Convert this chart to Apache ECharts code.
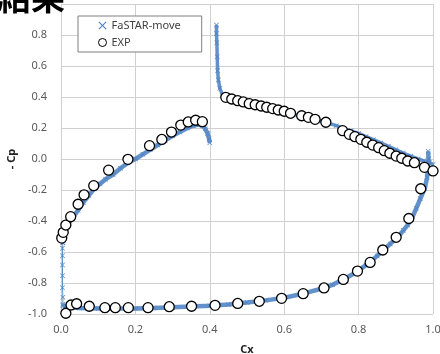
<!DOCTYPE html>
<html>
<head>
<meta charset="utf-8">
<script src="https://cdn.jsdelivr.net/npm/echarts@6/dist/echarts.min.js"></script>
<style>
html,body{margin:0;padding:0;background:#fff;}
#chart{width:440px;height:354px;}
</style>
</head>
<body>
<div id="chart"></div>
<script>
// ---- data (x = Cx, y = -Cp) ----
const xTicks = [0.0, 0.2, 0.4, 0.6, 0.8, 1.0];
const yTicks = [-1.0, -0.8, -0.6, -0.4, -0.2, 0.0, 0.2, 0.4, 0.6, 0.8, 1.0];

// FaSTAR-move: sparse leading-edge points
const cfdNose = [[0.005,-0.945],[0.005,-0.937],[0.005,-0.892],[0.004,-0.830],[0.004,-0.753],[0.004,-0.684],[0.004,-0.624],[0.004,-0.576],[0.005,-0.54]];
// FaSTAR-move: main element upper surface
const cfdUpper1 = [[0.005,-0.54],[0.006,-0.50],[0.010,-0.46],[0.016,-0.43],[0.024,-0.40],[0.034,-0.37],[0.046,-0.33],[0.060,-0.28],[0.075,-0.235],[0.090,-0.19],[0.105,-0.16],[0.120,-0.13],[0.140,-0.10],[0.160,-0.06],[0.180,-0.025],[0.200,0.000],[0.220,0.030],[0.240,0.060],[0.260,0.090],[0.280,0.120],[0.300,0.150],[0.320,0.175],[0.340,0.200],[0.355,0.215],[0.370,0.222],[0.380,0.215],[0.388,0.195],[0.394,0.165],[0.398,0.130],[0.400,0.105]];
// FaSTAR-move: lower surface
const cfdLower = [[0.006,-0.948],[0.020,-0.955],[0.050,-0.962],[0.100,-0.964],[0.150,-0.965],[0.200,-0.964],[0.250,-0.962],[0.300,-0.957],[0.350,-0.952],[0.400,-0.946],[0.450,-0.938],[0.500,-0.926],[0.550,-0.912],[0.600,-0.895],[0.650,-0.869],[0.700,-0.837],[0.730,-0.812],[0.760,-0.776],[0.790,-0.735],[0.820,-0.685],[0.850,-0.625],[0.865,-0.590],[0.885,-0.548],[0.905,-0.505],[0.920,-0.462],[0.932,-0.425],[0.943,-0.385],[0.955,-0.318],[0.966,-0.255],[0.978,-0.190],[0.984,-0.120],[0.987,-0.050],[0.988,0.000],[0.987,0.050]];
// FaSTAR-move: second element upper surface
const cfdUpper2 = [[0.418,0.865],[0.418,0.810],[0.419,0.750],[0.420,0.660],[0.421,0.570],[0.423,0.510],[0.427,0.456],[0.434,0.413],[0.445,0.385],[0.460,0.370],[0.480,0.358],[0.500,0.347],[0.520,0.337],[0.540,0.327],[0.560,0.317],[0.580,0.308],[0.600,0.298],[0.620,0.288],[0.640,0.278],[0.660,0.267],[0.680,0.256],[0.700,0.245],[0.720,0.230],[0.740,0.215],[0.760,0.198],[0.780,0.182],[0.800,0.165],[0.820,0.145],[0.840,0.125],[0.860,0.104],[0.880,0.082],[0.900,0.060],[0.920,0.038],[0.940,0.018],[0.960,0.000],[0.975,-0.012],[0.990,-0.022],[1.000,-0.035]];

// EXP
const expUpper1 = [[0.002,-0.510],[0.006,-0.473],[0.013,-0.426],[0.026,-0.372],[0.046,-0.292],[0.062,-0.231],[0.088,-0.172],[0.128,-0.072],[0.180,-0.002],[0.238,0.086],[0.271,0.126],[0.297,0.174],[0.322,0.219],[0.342,0.239],[0.362,0.250],[0.380,0.241]];
const expUpper2 = [[0.443,0.398],[0.459,0.387],[0.475,0.376],[0.490,0.368],[0.506,0.357],[0.522,0.350],[0.538,0.342],[0.553,0.334],[0.569,0.325],[0.584,0.316],[0.600,0.308],[0.617,0.295],[0.647,0.279],[0.665,0.269],[0.683,0.256],[0.712,0.237],[0.757,0.183],[0.775,0.159],[0.790,0.144],[0.806,0.127],[0.822,0.108],[0.838,0.090],[0.854,0.073],[0.869,0.054],[0.884,0.037],[0.901,0.019],[0.916,0.005],[0.932,-0.013],[0.950,-0.024],[0.977,-0.054],[1.000,-0.077]];
const expLower = [[0.013,-0.995],[0.027,-0.942],[0.042,-0.934],[0.076,-0.950],[0.118,-0.959],[0.146,-0.959],[0.181,-0.959],[0.234,-0.959],[0.291,-0.953],[0.351,-0.950],[0.414,-0.944],[0.475,-0.932],[0.533,-0.918],[0.593,-0.899],[0.651,-0.869],[0.707,-0.832],[0.759,-0.777],[0.797,-0.723],[0.831,-0.667],[0.865,-0.587],[0.901,-0.505],[0.935,-0.384],[0.967,-0.192]];

const seriesNames = ['FaSTAR-move', 'EXP'];
const titleText = '結果';
const xName = 'Cx';
const yName = '- Cp';

// ---- chart ----
const BLUE = '#5285C4';
const XPATH = 'path://M1,0L5,4L9,0L10,1L6,5L10,9L9,10L5,6L1,10L0,9L4,5L0,1Z';
const chart = echarts.init(document.getElementById('chart'), null, {renderer: 'canvas'});

function cfdSeries(data, width, symSize) {
  return {
    name: seriesNames[0], type: 'line', data: data,
    symbol: XPATH, symbolSize: symSize, showSymbol: true, showAllSymbol: true,
    itemStyle: {color: BLUE},
    lineStyle: {color: BLUE, width: width, opacity: 0.9},
    z: 2, silent: true
  };
}

const option = {
  animation: false,
  backgroundColor: '#fff',
  textStyle: {fontFamily: 'Noto Sans'},
  grid: {left: 61, right: 7, top: 4, bottom: 40, containLabel: false, outerBoundsMode: 'none'},
  legend: {
    orient: 'vertical', left: 78, top: 16,
    padding: [4, 21, 4, 20], itemGap: 6, itemWidth: 8, itemHeight: 8,
    borderColor: '#7F7F7F', borderWidth: 1, backgroundColor: '#fff',
    textStyle: {fontSize: 11, color: '#404040', fontFamily: 'Noto Sans'},
    data: [
      {name: seriesNames[0], icon: XPATH, itemStyle: {color: BLUE}},
      {name: seriesNames[1], icon: 'circle', itemStyle: {color: '#fff', borderColor: '#000', borderWidth: 1}}
    ]
  },
  xAxis: {
    type: 'value', min: xTicks[0], max: xTicks[xTicks.length - 1], interval: 0.2,
    name: xName, nameLocation: 'middle', nameGap: 30,
    nameTextStyle: {fontWeight: 'bold', fontSize: 11, color: '#222'},
    axisLine: {show: true, lineStyle: {color: '#D0D0D0'}},
    axisTick: {show: false},
    splitLine: {show: true, lineStyle: {color: '#D0D0D0', width: 1}},
    axisLabel: {fontSize: 11, color: '#595959', margin: 10, formatter: v => v.toFixed(1)}
  },
  yAxis: {
    type: 'value', min: yTicks[0], max: yTicks[yTicks.length - 1], interval: 0.2,
    name: yName, nameLocation: 'middle', nameGap: 44, nameRotate: 90,
    nameTextStyle: {fontWeight: 'bold', fontSize: 11, color: '#222'},
    axisLine: {show: true, lineStyle: {color: '#D0D0D0'}},
    axisTick: {show: false},
    splitLine: {show: true, lineStyle: {color: '#D0D0D0', width: 1}},
    axisLabel: {fontSize: 11, color: '#595959', margin: 14, showMaxLabel: false, formatter: v => v.toFixed(1)}
  },
  graphic: [{
    type: 'text', left: -3, top: -20, z: 100,
    style: {text: titleText, font: 'bold 34px "Noto Sans CJK JP"', fill: '#000'}
  }],
  series: [
    cfdSeries(cfdNose, 1, 5),
    cfdSeries(cfdUpper1, 4.5, 5),
    cfdSeries(cfdLower, 4.5, 5),
    cfdSeries(cfdUpper2, 3.5, 5),
    ...[expUpper1, expUpper2, expLower].map(d => ({
      name: seriesNames[1], type: 'scatter', data: d,
      symbol: 'circle', symbolSize: 10,
      itemStyle: {color: '#fff', borderColor: '#000', borderWidth: 1.3, opacity: 1},
      z: 5, silent: true
    }))
  ]
};
chart.setOption(option);
</script>
</body>
</html>
